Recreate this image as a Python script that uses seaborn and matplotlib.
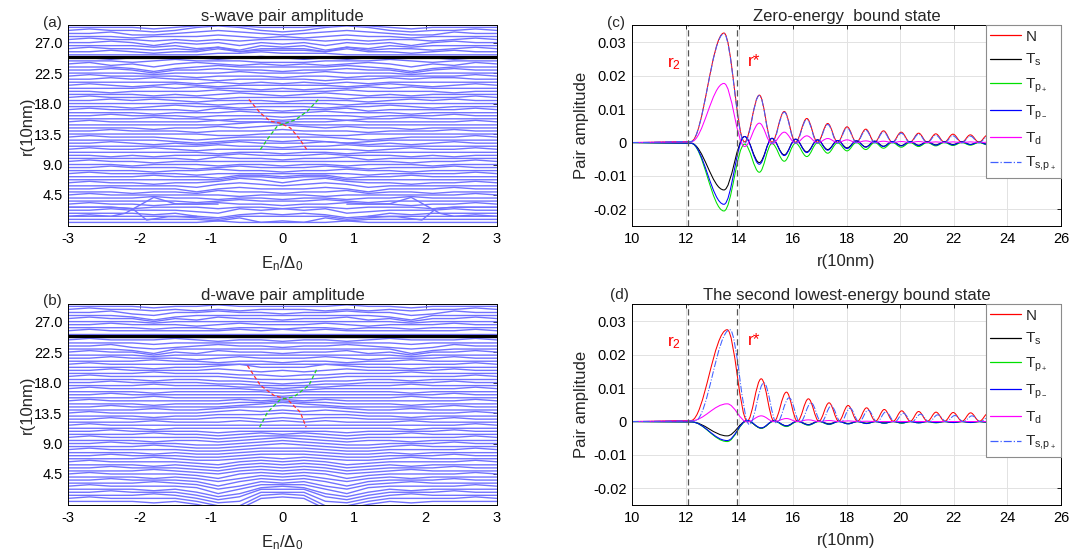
import numpy as np
import pandas as pd
import matplotlib
matplotlib.use('Agg')
import matplotlib.pyplot as plt
import matplotlib.ticker as mticker
import seaborn as sns
from matplotlib.path import Path
from matplotlib.patches import PathPatch
from matplotlib.lines import Line2D

# === DATA: left panels (stacked pair amplitude vs energy) ===
E_NODES = [-3.0, -2.7, -2.4, -2.1, -1.8, -1.5, -1.2, -0.9, -0.6, -0.3, 0.0,
           0.3, 0.6, 0.9, 1.2, 1.5, 1.8, 2.1, 2.4, 2.7, 3.0]
R_TOP, R_STEP, SHIFT = 29.25, 0.45, 0.22   # one row per r, digit 5 = no shift
R_MARK = 24.85

# rows from top (r=29.25) to bottom (r=0.45), one digit per E node
WIGGLE_A = [
    "555545676555676545555", "565545787545787545565", "556445676545676544655",
    "555455565454565545555", "565545454555454554565", "556535453545354535655",
    "555545342545243545555", "565545463555364554565", "556545575666575545655",
    "555555566766655555555", "554555545654545555455", "555456555444555654555",
    "564535654545456535465", "555424565555565424555", "556535565545565535655",
    "555545556555655545555", "565555455545545555565", "556565545555455656655",
    "555555454545454555555", "565456545555545654565", "555565655454556565555",
    "554555565555565555455", "555545456545654545555", "565555545555545555565",
    "556565455545554565655", "555555545555545555555", "555456554555455654555",
    "565555465545564555565", "555545556555655545555", "556555455545554555655",
    "555565545545545565555", "565555565555565555565", "555555556765555555555",
    "555545565676565545555", "556555455565554555655", "555555544555445555555",
    "565554345555543455565", "555554345545434555555", "556545456555654545655",
    "555555565545565555555", "565565455555554565565", "555555545545545555555",
    "554545556555655545455", "555555465545564555555", "565545555555555545565",
    "555455545545545554555", "556555456555654555655", "555545565545565545555",
    "565555455555554555565", "555565546656645565555", "555555557767755555555",
    "565545568757865545565", "555555467656764555555", "556555356555653555655",
    "555455465545564554555", "565555554555455555565", "555565545545545565555",
    "555555456555654555555", "565545565545565545565", "555455545545545554555",
    "556555436565634555655", "555545324545423545555", "565555435555534555565",
    "555555546343645555555", "555555565555565555555",
]
WIGGLE_B = [
    "555545565555565545555", "565545454555454545565", "556435565545565534655",
    "555424555555555425555", "565535465545564535565", "555545555555555545555",
    "556555456555654555655", "555545545545545545555", "565555556565655555565",
    "555555555555555555555", "555555555555555555555", "565556545545545655565",
    "555545555555555545555", "556434565545565434655", "555425555555555524555",
    "565535465545564535565", "555545555555555545555", "556555456555654555655",
    "555565545545545565555", "565555555555555555565", "555545567555765545555",
    "556555565454565555655", "555565554434455565555", "565555554333455555565",
    "555545544323445545555", "556555544333445555655", "555565554434455565555",
    "565555555444555555565", "555545555545555545555", "556555555545555555655",
    "555565555555555565555", "565555556565655555565", "555545556676655545555",
    "556555556787655555655", "555565567787765565555", "565555567676765555565",
    "555545566676665545555", "556555566565665555655", "555565556565655565555",
    "565555555555555555565", "555545555555555545555", "556555545555545555655",
    "555565545656545565555", "565555545666545555565", "555545545676545545555",
    "556555445676544555655", "555565445676544565555", "565555445666544555565",
    "555545445666544545555", "556555445666544555655", "555565445656544565555",
    "565555435656534555565", "555545435656534545555", "556555435656534555655",
    "555565435656534565555", "565555425656524555565", "555545424656424545555",
    "556555414656414555655", "555565413656314565555", "565555403666304555565",
    "555545302676203545555", "556555302777203555655", "555565301777103565555",
    "565555300787003555565", "555545300787003545555",
]
# crossing lines near the bottom of (a)
CROSS_A = [
    ([-3.0, -2.4, -2.2, -1.8, -1.5, -1.2, -0.9], [1.35, 1.35, 1.8, 4.15, 3.2, 3.15, 3.15]),
    ([0.9, 1.2, 1.5, 1.8, 2.2, 2.4, 3.0], [3.15, 3.15, 3.2, 4.15, 1.8, 1.35, 1.35]),
    ([-3.0, -2.4, -2.1, -1.9, -1.6, -1.2], [2.7, 2.7, 2.5, 0.8, 1.3, 1.35]),
    ([1.2, 1.6, 1.95, 2.15, 2.4, 3.0], [1.35, 1.3, 0.8, 2.5, 2.7, 2.7]),
]
# dashed branches (red / green)
RED_A_E = [-0.47, -0.31, -0.17, -0.03, 0.11, 0.23, 0.34]
RED_A_R = [18.6, 16.6, 15.4, 15.1, 14.4, 12.9, 11.2]
GRN_A_E = [-0.31, -0.20, -0.07, 0.07, 0.18, 0.35, 0.51]
GRN_A_R = [11.2, 12.9, 14.7, 15.2, 15.6, 16.9, 18.7]
RED_B_E = [-0.49, -0.31, -0.12, 0.07, 0.25, 0.33]
RED_B_R = [20.5, 17.6, 16.1, 15.5, 13.6, 11.4]
GRN_B_E = [-0.32, -0.21, -0.03, 0.16, 0.37, 0.49]
GRN_B_R = [11.4, 13.6, 15.5, 15.9, 17.6, 20.2]

# === DATA: right panels, extrema of each curve (x shared per panel) ===
XC = [10.0, 12.2, 13.43, 14.2, 14.75, 15.22, 15.68, 16.1, 16.52, 16.92, 17.30, 17.67,
      18.02, 18.37, 18.72, 19.05, 19.38, 19.71, 20.04, 20.37, 20.69, 21.01, 21.33, 21.65,
      21.97, 22.30, 22.62, 22.94, 23.26, 23.58, 23.90, 24.22, 24.53, 24.85, 25.16, 25.48,
      25.79, 26.0]
N_C = [0, 0.0003, 0.0328, 0.0002, 0.0142, 0.0001, 0.0093, 0.0001, 0.0072, 0.0001, 0.0057, 0.0001,
       0.0047, 0.0001, 0.0040, 0.0001, 0.0035, 0.0001, 0.0031, 0.0001, 0.0028, 0.0001, 0.0026, 0.0001,
       0.0025, 0.0001, 0.0023, 0.0001, 0.0022, 0.0001, 0.0021, 0.0001, 0.0020, 0.0001, 0.0019, 0.0001,
       0.0018, 0.0001]
TS_C = [0, -0.0002, -0.0142, 0.0018, -0.0060, 0.0012, -0.0037, 0.0010, -0.0028, 0.0008, -0.0021, 0.0006,
        -0.0016, 0.0005, -0.0013, 0.0004, -0.0011, 0.0003, -0.0009, 0.0003, -0.0008, 0.0002, -0.0007, 0.0002,
        -0.0006, 0.0002, -0.0006, 0.0001, -0.0005, 0.0001, -0.0005, 0.0001, -0.0004, 0.0001, -0.0004, 0.0001,
        -0.0004, 0]
TPP_C = [0, -0.0002, -0.0205, -0.0005, -0.0089, -0.0003, -0.0056, -0.0002, -0.0042, -0.0001, -0.0032, -0.0001,
         -0.0025, 0, -0.0021, 0, -0.0017, 0, -0.0014, 0, -0.0012, 0, -0.0010, 0,
         -0.0009, 0, -0.0008, 0, -0.0007, 0, -0.0006, 0, -0.0006, 0, -0.0005, 0,
         -0.0005, 0]
TPM_C = [0, -0.0002, -0.0185, 0.0018, -0.0065, 0.0013, -0.0039, 0.0010, -0.0030, 0.0008, -0.0023, 0.0006,
         -0.0018, 0.0005, -0.0014, 0.0004, -0.0012, 0.0003, -0.0010, 0.0003, -0.0009, 0.0002, -0.0008, 0.0002,
         -0.0007, 0.0002, -0.0006, 0.0001, -0.0006, 0.0001, -0.0005, 0.0001, -0.0005, 0.0001, -0.0004, 0.0001,
         -0.0004, 0]
TD_C = [0, 0.0002, 0.0177, -0.0012, 0.0058, -0.0004, 0.0031, -0.0002, 0.0020, -0.0001, 0.0012, 0,
        0.0008, 0, 0.0005, 0, 0.0004, 0, 0.0003, 0, 0.0003, 0, 0.0002, 0,
        0.0002, 0, 0.0002, 0, 0.0001, 0, 0.0001, 0, 0.0001, 0, 0.0001, 0,
        0.0001, 0]
TSP_C = [0, 0.0003, 0.0326, -0.0002, 0.0141, -0.0002, 0.0091, -0.0002, 0.0069, -0.0002, 0.0054, -0.0002,
         0.0044, -0.0001, 0.0037, -0.0001, 0.0032, -0.0001, 0.0028, -0.0001, 0.0025, -0.0001, 0.0022, -0.0001,
         0.0020, -0.0001, 0.0019, -0.0001, 0.0018, -0.0001, 0.0017, -0.0001, 0.0016, -0.0001, 0.0015, -0.0001,
         0.0014, 0]

XD = [10.0, 12.2, 13.55, 14.3, 14.82, 15.3, 15.76, 16.17, 16.58, 16.97, 17.35, 17.71,
      18.06, 18.41, 18.75, 19.08, 19.41, 19.74, 20.06, 20.38, 20.69, 21.02, 21.34, 21.66,
      21.98, 22.31, 22.63, 22.96, 23.29, 23.61, 23.93, 24.25, 24.57, 24.88, 25.19, 25.5,
      25.8, 26.0]
XSP_D = [10.0, 12.35, 13.65, 14.38, 14.92, 15.4, 15.86, 16.27, 16.68, 17.06, 17.43, 17.79,
         18.13, 18.47, 18.81, 19.14, 19.47, 19.8, 20.12, 20.44, 20.76, 21.08, 21.4, 21.72,
         22.04, 22.36, 22.68, 23.0, 23.33, 23.65, 23.97, 24.29, 24.61, 24.92, 25.23, 25.54,
         25.84, 26.0]
N_D = [0, 0.0003, 0.0275, 0.0002, 0.0128, 0.0001, 0.0088, 0.0001, 0.0068, 0.0001, 0.0056, 0.0001,
       0.0048, 0.0001, 0.0041, 0.0001, 0.0036, 0.0001, 0.0032, 0.0001, 0.0030, 0.0001, 0.0028, 0.0001,
       0.0027, 0.0001, 0.0026, 0.0001, 0.0025, 0.0001, 0.0024, 0.0001, 0.0023, 0.0001, 0.0022, 0.0001,
       0.0021, 0.0001]
TS_D = [0, -0.0001, -0.0043, 0.0002, -0.0020, 0.0002, -0.0013, 0.0001, -0.0009, 0.0001, -0.0007, 0.0001,
        -0.0006, 0, -0.0005, 0, -0.0004, 0, -0.0004, 0, -0.0003, 0, -0.0003, 0,
        -0.0003, 0, -0.0002, 0, -0.0002, 0, -0.0002, 0, -0.0002, 0, -0.0002, 0,
        -0.0002, 0]
TPP_D = [0, -0.0001, -0.0060, 0.0002, -0.0020, 0.0001, -0.0015, 0, -0.0011, 0, -0.0009, 0,
         -0.0007, 0, -0.0006, 0, -0.0005, 0, -0.0005, 0, -0.0004, 0, -0.0004, 0,
         -0.0003, 0, -0.0003, 0, -0.0003, 0, -0.0003, 0, -0.0002, 0, -0.0002, 0,
         -0.0002, 0]
TPM_D = [0, -0.0001, -0.0057, 0.0003, -0.0019, 0.0002, -0.0013, 0.0001, -0.0010, 0.0001, -0.0008, 0,
         -0.0007, 0, -0.0006, 0, -0.0005, 0, -0.0004, 0, -0.0004, 0, -0.0003, 0,
         -0.0003, 0, -0.0003, 0, -0.0002, 0, -0.0002, 0, -0.0002, 0, -0.0002, 0,
         -0.0002, 0]
TD_D = [0, 0.0002, 0.0053, -0.0001, 0.0017, 0, 0.0009, 0, 0.0005, 0, 0.0003, 0,
        0.0002, 0, 0.0001, 0, 0, 0, 0, 0, 0, 0, 0, 0,
        0, 0, 0, 0, 0, 0, 0, 0, 0, 0, 0, 0,
        0, 0]
TSP_D = [0, 0.0002, 0.0275, -0.0009, 0.0116, -0.0005, 0.0071, -0.0003, 0.0056, -0.0002, 0.0047, -0.0002,
         0.0040, -0.0001, 0.0034, -0.0001, 0.0029, -0.0001, 0.0025, -0.0001, 0.0022, -0.0001, 0.0020, 0,
         0.0018, 0, 0.0017, 0, 0.0016, 0, 0.0015, 0, 0.0014, 0, 0.0013, 0,
         0.0013, 0]

R2_LINE, RSTAR_LINE = 12.08, 13.93
LABELS = ['N', r'T$_\mathrm{s}$', r'T$_{\mathrm{p}_+}$', r'T$_{\mathrm{p}_-}$',
          r'T$_\mathrm{d}$', r'T$_{\mathrm{s{,}p}_+}$']
COLORS = ['#ff0000', '#000000', '#00e000', '#0000ff', '#ff00ff', '#4060ff']
STYLES = ['-', '-', '-', '-', '-', '-.']
WAVE_BLUE = '#7272ff'

# === STYLE ===
sns.set_theme(style='white')
plt.rcParams['font.family'] = ['Liberation Sans', 'DejaVu Sans']
plt.rcParams['mathtext.fontset'] = 'custom'
plt.rcParams['mathtext.rm'] = 'Liberation Sans'
plt.rcParams['mathtext.it'] = 'Liberation Sans:italic'
plt.rcParams['axes.unicode_minus'] = False


def waterfall(rows):
    recs = []
    for i, row in enumerate(rows):
        r0 = R_TOP - R_STEP * i
        for e, c in zip(E_NODES, row):
            recs.append((i, e, r0 + (int(c) - 5) * SHIFT))
    return pd.DataFrame(recs, columns=['line', 'E', 'r'])


def smooth_path(xs, ys):
    # extrema joined by cubic segments with flat tangents
    verts, codes = [(xs[0], ys[0])], [Path.MOVETO]
    for i in range(len(xs) - 1):
        dx = xs[i + 1] - xs[i]
        verts += [(xs[i] + 0.364 * dx, ys[i]), (xs[i + 1] - 0.364 * dx, ys[i + 1]), (xs[i + 1], ys[i + 1])]
        codes += [Path.CURVE4] * 3
    return Path(verts, codes)


def style_box(ax):
    for s in ax.spines.values():
        s.set_color('black'); s.set_linewidth(0.7)
    ax.tick_params(direction='in', length=3, width=0.6, top=True, right=True,
                   labelsize=10.5, colors='black', pad=4)


fig = plt.figure(figsize=(10.86, 5.6), dpi=100)
W, H = 1086, 560
ax_a = fig.add_axes([68 / W, 1 - 226 / H, 429 / W, 201 / H])
ax_b = fig.add_axes([68 / W, 1 - 505 / H, 429 / W, 201 / H])
ax_c = fig.add_axes([632 / W, 1 - 226 / H, 429 / W, 201 / H])
ax_d = fig.add_axes([632 / W, 1 - 505 / H, 429 / W, 201 / H])

# --- (a), (b)
for ax, rows, title, red, grn, extra in [
        (ax_a, WIGGLE_A, 's-wave pair amplitude', (RED_A_E, RED_A_R), (GRN_A_E, GRN_A_R), CROSS_A),
        (ax_b, WIGGLE_B, 'd-wave pair amplitude', (RED_B_E, RED_B_R), (GRN_B_E, GRN_B_R), [])]:
    df = waterfall(rows)
    sns.lineplot(data=df, x='E', y='r', hue='line', palette=[WAVE_BLUE] * len(rows),
                 estimator=None, sort=False, lw=1.0, ax=ax, legend=False)
    for ex, er in extra:
        sns.lineplot(x=ex, y=er, sort=False, color=WAVE_BLUE, lw=1.0, ax=ax, legend=False)
    ax.axhline(R_MARK, color='black', lw=2.3, zorder=5)
    sns.lineplot(x=red[0], y=red[1], sort=False, color='#ff3030', lw=0.9, ax=ax,
                 linestyle=(0, (3, 2)), zorder=6)
    sns.lineplot(x=grn[0], y=grn[1], sort=False, color='#20d020', lw=0.9, ax=ax,
                 linestyle=(0, (3, 2)), zorder=6)
    ax.set_xlim(-3, 3); ax.set_ylim(-0.08, 29.6)
    ax.set_xticks([-3, -2, -1, 0, 1, 2, 3])
    ax.set_yticks([4.5, 9.0, 13.5, 18.0, 22.5, 27.0])
    ax.xaxis.set_major_formatter(mticker.FuncFormatter(lambda v, _: f'{v:g}'))
    ax.yaxis.set_major_formatter(mticker.FormatStrFormatter('%.1f'))
    ax.set_title(title, fontsize=12, pad=3)
    ax.set_xlabel(r'E$_\mathrm{n}$/$\Delta_0$', fontsize=12, labelpad=6)
    ax.set_ylabel('r(10nm)', fontsize=12, labelpad=-1)
    style_box(ax)

# --- (c), (d)
panels = [
    (ax_c, 'Zero-energy  bound state', [XC] * 6, [N_C, TS_C, TPP_C, TPM_C, TD_C, TSP_C]),
    (ax_d, 'The second lowest-energy bound state', [XD] * 5 + [XSP_D], [N_D, TS_D, TPP_D, TPM_D, TD_D, TSP_D]),
]
for ax, title, xs_list, ys_list in panels:
    ax.grid(True, color='#e2e2e2', lw=0.7)
    ax.set_axisbelow(True)
    for xs, ys, c, ls in zip(xs_list, ys_list, COLORS, STYLES):
        ax.add_patch(PathPatch(smooth_path(xs, ys), fill=False, edgecolor=c, lw=0.75, linestyle=ls))
    for xv in (R2_LINE, RSTAR_LINE):
        ax.axvline(xv, color='#555555', lw=0.9, ls=(0, (5, 3)))
    ax.text(11.55, 0.0235, r'r$_2$', color='red', fontsize=12.5, ha='center', va='center')
    ax.text(14.55, 0.0243, 'r*', color='red', fontsize=12.5, ha='center', va='center')
    ax.set_xlim(10, 26); ax.set_ylim(-0.025, 0.0352)
    ax.set_xticks(range(10, 27, 2))
    ax.set_yticks([-0.02, -0.01, 0, 0.01, 0.02, 0.03])
    ax.yaxis.set_major_formatter(mticker.FuncFormatter(lambda v, _: '0' if abs(v) < 1e-9 else f'{v:g}'))
    ax.set_title(title, fontsize=12, pad=3)
    ax.set_xlabel('r(10nm)', fontsize=12, labelpad=6)
    ax.set_ylabel('Pair amplitude', fontsize=12, labelpad=3)
    style_box(ax)
    handles = [Line2D([], [], color=c, ls=ls, lw=0.9) for c, ls in zip(COLORS, STYLES)]
    leg = ax.legend(handles, LABELS, loc='upper right', bbox_to_anchor=(1, 1), borderaxespad=0,
                    fontsize=11, handlelength=2.0, handletextpad=0.3, labelspacing=0.55,
                    borderpad=0.3, fancybox=False, framealpha=1, edgecolor='#8c8c8c')
    leg.get_frame().set_linewidth(0.8)

for txt, x, y in [('(a)', 52, 22.5), ('(b)', 52, 300.5), ('(c)', 616, 22.5), ('(d)', 619, 295)]:
    fig.text(x / W, 1 - y / H, txt, fontsize=11, ha='center', va='center')

fig.savefig('out.png', dpi=100)
